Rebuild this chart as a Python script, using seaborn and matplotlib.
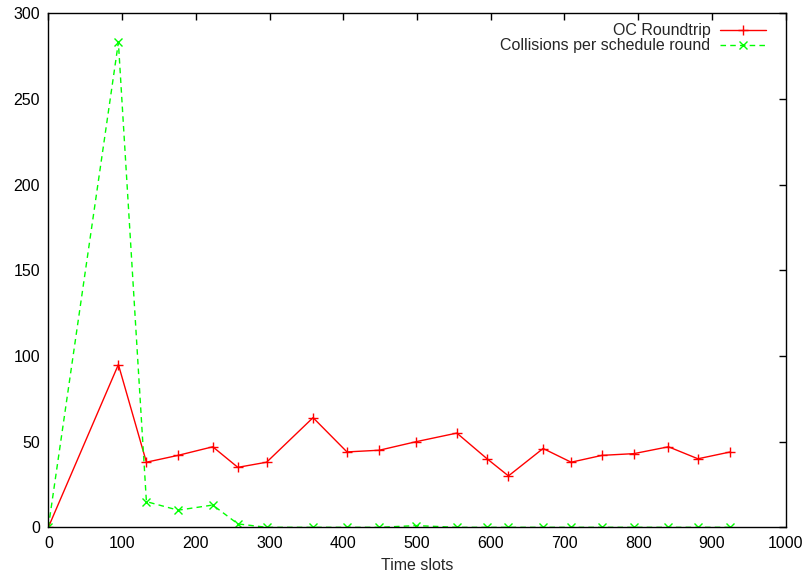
import matplotlib
matplotlib.use("Agg")
import matplotlib.pyplot as plt
import seaborn as sns
import pandas as pd

# Time slot at which each schedule round was sampled
time_slots = [0, 95, 133, 176, 223, 257, 296, 359, 405, 449, 499,
              554, 595, 624, 671, 709, 751, 794, 841, 881, 925]
# Observed OC roundtrip per round
oc_roundtrip = [0, 95, 38, 42, 47, 35, 38, 64, 44, 45, 50,
                55, 40, 30, 46, 38, 42, 43, 47, 40, 44]
# Collisions counted in each schedule round
collisions = [0, 283, 15, 10, 13, 2, 0, 0, 0, 0, 1,
              0, 0, 0, 0, 0, 0, 0, 0, 0, 0]

x_ticks = list(range(0, 1001, 100))
y_ticks = list(range(0, 301, 50))

sns.set_style("white")
plt.rcParams["font.family"] = ["Liberation Sans", "DejaVu Sans"]

df = pd.DataFrame({"t": time_slots, "rt": oc_roundtrip, "col": collisions})

fig = plt.figure(figsize=(8.07, 5.81), dpi=100)
ax = fig.add_axes([0.0599, 0.0924, 0.9137, 0.8847])

sns.lineplot(data=df, x="t", y="rt", ax=ax, color="#ff0000", linewidth=1.0,
             marker="+", markersize=7, markeredgewidth=1.0,
             markeredgecolor="#ff0000", label="OC Roundtrip")
sns.lineplot(data=df, x="t", y="col", ax=ax, color="#00ff00", linewidth=1.0,
             linestyle=(0, (4, 3)), marker="x", markersize=6,
             markeredgewidth=1.0, markeredgecolor="#00ff00",
             label="Collisions per schedule round")

ax.set_xlim(0, 1000)
ax.set_ylim(0, 300)
ax.set_xticks(x_ticks)
ax.set_yticks(y_ticks)
ax.set_xlabel("Time slots", fontsize=11.5, labelpad=5)
ax.set_ylabel("")
ax.tick_params(direction="in", length=5, width=1.0, labelsize=11.5,
               top=True, right=True, pad=6, colors="black")
for s in ax.spines.values():
    s.set_color("black")
    s.set_linewidth(1.0)

ax.legend(loc="upper right", bbox_to_anchor=(0.989, 1.002), frameon=False,
          markerfirst=False, fontsize=11.5, handlelength=2.9,
          handletextpad=0.6, labelspacing=0.0, borderaxespad=0.3)

fig.savefig("out.png", dpi=100)
